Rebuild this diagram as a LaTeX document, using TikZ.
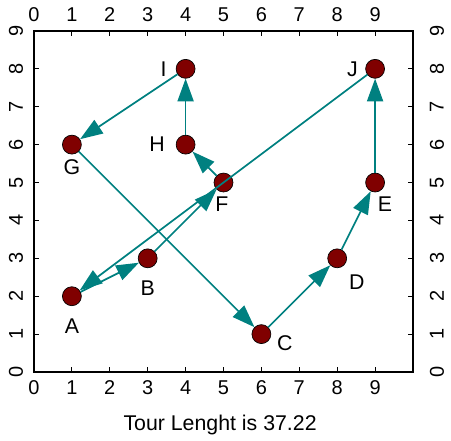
\documentclass[tikz,border=0pt]{standalone}
\usepackage{fontspec}
\setmainfont{Liberation Sans}
\usepackage{tikz}
\usetikzlibrary{arrows.meta}
\definecolor{tourline}{RGB}{0, 128, 128}
\definecolor{cityfill}{RGB}{128, 0, 0}

\begin{document}
\begin{tikzpicture}[>={Triangle[length=17pt, width=12pt]},
  city/.style={circle, fill=cityfill, draw=black, line width=0.5pt, minimum size=0.5cm, inner sep=0pt},
  leg/.style={->, tourline, line width=1.3pt},
  lbl/.style={font=\fontsize{16}{18}\selectfont},
  num/.style={font=\fontsize{15}{17}\selectfont}]
  \useasboundingbox (-0.897, -1.82) rectangle (11.003, 9.816);

  % Frame and ticks
  \draw[line width=1.1pt] (0, 0) rectangle (10, 9);
  \foreach \x in {1,...,9} {
    \draw[line width=0.6pt] (\x, 0) -- (\x, 0.13);
    \draw[line width=0.6pt] (\x, 9) -- (\x, 8.87);
  }
  \foreach \y in {1,...,8} {
    \draw[line width=0.6pt] (0, \y) -- (0.13, \y);
    \draw[line width=0.6pt] (10, \y) -- (9.87, \y);
  }
  \foreach \x in {0,...,9} {
    \node[num] (bx\x) at (\x, -0.42) {\x};
    \node[num] (tx\x) at (\x, 9.44) {\x};
  }
  \foreach \y in {0,...,9} {
    \node[num, rotate=90] (ly\y) at (-0.475, \y) {\y};
    \node[num, rotate=90] (ry\y) at (10.63, \y) {\y};
  }

  % Cities
  \node[city] (A) at (1, 2) {};
  \node[city] (B) at (3, 3) {};
  \node[city] (C) at (6, 1) {};
  \node[city] (D) at (8, 3) {};
  \node[city] (E) at (9, 5) {};
  \node[city] (F) at (5, 5) {};
  \node[city] (G) at (1, 6) {};
  \node[city] (H) at (4, 6) {};
  \node[city] (I) at (4, 8) {};
  \node[city] (J) at (9, 8) {};

  \node[lbl] (lA) at (1, 1.22) {A};
  \node[lbl] (lB) at (3, 2.22) {B};
  \node[lbl] (lC) at (6.62, 0.77) {C};
  \node[lbl] (lD) at (8.52, 2.38) {D};
  \node[lbl] (lE) at (9.26, 4.42) {E};
  \node[lbl] (lF) at (4.96, 4.42) {F};
  \node[lbl] (lG) at (1, 5.40) {G};
  \node[lbl] (lH) at (3.25, 6) {H};
  \node[lbl] (lI) at (3.42, 8) {I};
  \node[lbl] (lJ) at (8.4, 8) {J};

  % Tour
  \draw[leg] (A) -- (B);
  \draw[leg] (B) -- (F);
  \draw[leg] (F) -- (H);
  \draw[leg] (H) -- (I);
  \draw[leg] (I) -- (G);
  \draw[leg] (G) -- (C);
  \draw[leg] (C) -- (D);
  \draw[leg] (D) -- (E);
  \draw[leg] (E) -- (J);
  \draw[leg] (J) -- (A);

  \node[lbl] (title) at (4.91, -1.40) {Tour Lenght is 37.22};
\end{tikzpicture}
\end{document}
